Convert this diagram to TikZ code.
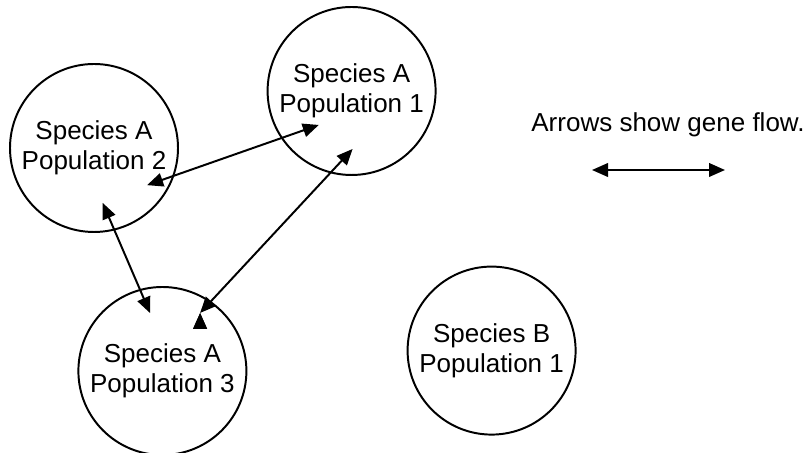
\documentclass[tikz,border=0pt]{standalone}
\usepackage{fontspec}
\setmainfont{Liberation Sans}
\usetikzlibrary{arrows.meta, positioning}

\begin{document}
\begin{tikzpicture}[font=\fontsize{18.5}{21}\selectfont]

		% Setup the styles for the populations and the arrows
		\tikzset{pop style/.style={circle,
				draw,
				line width=1.4pt,
				minimum size=4.2cm,
				inner sep=0pt,
				align=center},
			flow style/.style={line width=1.4pt,
				{Triangle[length=0.4cm,width=0.34cm]}-{Triangle[length=0.4cm,width=0.34cm]}}}

		\useasboundingbox (0,0) rectangle (20.225,11.325);

		% Draw the populations
		\node[pop style] at (8.79, 9.05)  (popA1) {Species A\\Population 1};
		\node[pop style] at (2.35, 7.625) (popA2) {Species A\\Population 2};
		\node[pop style] at (4.06, 2.05)  (popA3) {Species A\\Population 3};
		\node[pop style] at (12.29, 2.56) (popB1) {Species B\\Population 1};

		% Where the arrows end inside the circles
		\coordinate (a1left)   at ([shift={(-134:1.18)}]popA1.center);
		\coordinate (a1bottom) at ([shift={(-89:1.45)}]popA1.center);
		\coordinate (a2right)  at ([shift={(-35:1.62)}]popA2.center);
		\coordinate (a2bottom) at ([shift={(-81:1.39)}]popA2.center);
		\coordinate (a3top)    at ([shift={(102:1.48)}]popA3.center);
		\coordinate (a3right)  at ([shift={(57:1.73)}]popA3.center);

		% Connect the populations with arrows
		\draw[flow style]
		(a2right)  edge (a1left)
		(a2bottom) edge (a3top)
		(a3right)  edge (a1bottom);

		% Key
		\node[anchor=base] at (16.7, 8.03) (legend) {Arrows show gene flow.};
		\coordinate (keywest) at (14.8, 7.075);
		\coordinate (keyeast) at (18.125, 7.075);
		\draw[flow style] (keywest) -- (keyeast);
		\end{tikzpicture}
\end{document}
